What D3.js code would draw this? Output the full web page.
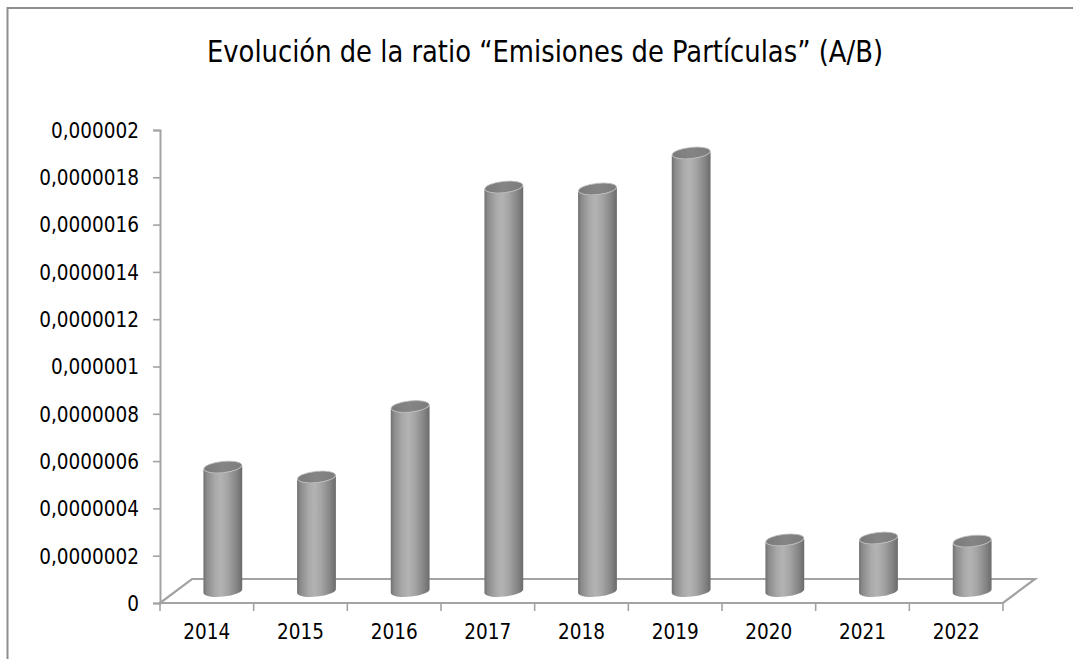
<!DOCTYPE html>
<html>
<head>
<meta charset="utf-8">
<script src="https://cdn.jsdelivr.net/npm/d3@7"></script>
<style>
html,body{margin:0;padding:0;background:#fff;}
svg{display:block;}
text{font-family:"DejaVu Sans Condensed","DejaVu Sans",sans-serif;font-stretch:condensed;fill:#000;}
</style>
</head>
<body>
<svg id="chart" width="1073" height="659"></svg>
<script>
const title = "Evolución de la ratio “Emisiones de Partículas” (A/B)";
const categories = ["2014","2015","2016","2017","2018","2019","2020","2021","2022"];
const values = [0.000000524,0.000000482,0.00000078,0.000001708,0.0000017,0.000001852,0.000000216,0.000000224,0.000000211];
const yTickValues = [0,0.0000002,0.0000004,0.0000006,0.0000008,0.000001,0.0000012,0.0000014,0.0000016,0.0000018,0.000002];
const yTickLabels = ["0","0,0000002","0,0000004","0,0000006","0,0000008","0,000001","0,0000012","0,0000014","0,0000016","0,0000018","0,000002"];

(function(){
const pLeft = 160, pRight = 1003, pTop = 130, pBottom = 603;
const depthX = 32, depthY = -24;           // floor depth offset
const midX = depthX/2, midY = depthY/2;    // bars sit at mid-depth

const svg = d3.select("#chart");

// outer frame
svg.append("rect").attr("x",7.5).attr("y",8).attr("width",1200).attr("height",800)
  .attr("fill","#fff").attr("stroke","#8e8e8e").attr("stroke-width",2);

// title
svg.append("text").attr("x",545).attr("y",62).attr("text-anchor","middle")
  .attr("font-size",31).attr("textLength",676).attr("lengthAdjust","spacingAndGlyphs")
  .text(title);

const x = d3.scaleBand().domain(categories).range([pLeft,pRight]).padding(0);
const y = d3.scaleLinear().domain([0,0.000002]).range([pBottom,pTop]);

const axisColor = "#a3a3a3";

// floor parallelogram
const floorPts = [[pLeft,pBottom],[pRight,pBottom],[pRight+depthX,pBottom+depthY],[pLeft+depthX,pBottom+depthY]];
svg.append("path").attr("d", d3.line()(floorPts)+"Z")
  .attr("fill","none").attr("stroke",axisColor).attr("stroke-width",2.2).attr("stroke-linejoin","miter");

// y axis
const yAxis = d3.axisLeft(y).tickValues(yTickValues).tickSize(7).tickPadding(14)
  .tickFormat((d,i)=>yTickLabels[i]);
const gy = svg.append("g").attr("transform",`translate(${pLeft},0)`).call(yAxis);
gy.select(".domain").attr("stroke",axisColor).attr("stroke-width",2);
gy.selectAll(".tick line").attr("stroke",axisColor).attr("stroke-width",1.6);
gy.selectAll(".tick text").attr("font-size",20.5).attr("dy","0.36em")
  .style("font-family",'"DejaVu Sans Condensed","DejaVu Sans",sans-serif');

// x axis ticks (category boundaries) and labels
const bounds = categories.map(c=>x(c)).concat([pRight]);
svg.selectAll(".xtick").data(bounds).enter().append("line")
  .attr("x1",d=>d).attr("x2",d=>d).attr("y1",pBottom).attr("y2",pBottom+8)
  .attr("stroke",axisColor).attr("stroke-width",1.6);
svg.selectAll(".xlab").data(categories).enter().append("text")
  .attr("x",d=>x(d)+x.bandwidth()/2).attr("y",639).attr("text-anchor","middle")
  .attr("font-size",20.5).text(d=>d);

// bars (cylinders)
const defs = svg.append("defs");
const grad = defs.append("linearGradient").attr("id","cyl").attr("x1","0").attr("x2","1").attr("y1","0").attr("y2","0");
[["0%","#6f6f6f"],["8%","#8a8a8a"],["30%","#a9a9a9"],["45%","#b3b3b3"],["62%","#a5a5a5"],["85%","#858585"],["100%","#6b6b6b"]]
  .forEach(s=>grad.append("stop").attr("offset",s[0]).attr("stop-color",s[1]));
const capGrad = defs.append("linearGradient").attr("id","cap").attr("x1","0").attr("x2","1").attr("y1","0").attr("y2","0");
[["0%","#7a7a7a"],["50%","#858585"],["100%","#7c7c7c"]]
  .forEach(s=>capGrad.append("stop").attr("offset",s[0]).attr("stop-color",s[1]));

const rx = 19.5, ry = 5.6, rot = -6;
const phi = rot*Math.PI/180;
const ex = rx*Math.cos(phi), ey = rx*Math.sin(phi);

const bars = svg.selectAll(".bar").data(categories.map((c,i)=>({c,v:values[i]}))).enter().append("g");
bars.each(function(d){
  const g = d3.select(this);
  const cx = x(d.c)+x.bandwidth()/2+midX;
  const yB = y(0)+midY;
  const yT = y(d.v)+midY;
  const p = `M${cx-ex},${yT-ey} L${cx-ex},${yB-ey} A${rx},${ry} ${rot} 0 0 ${cx+ex},${yB+ey} L${cx+ex},${yT+ey} A${rx},${ry} ${rot} 0 1 ${cx-ex},${yT-ey} Z`;
  g.append("path").attr("d",p).attr("fill","url(#cyl)");
  g.append("ellipse").attr("cx",cx).attr("cy",yT).attr("rx",rx-0.3).attr("ry",ry)
    .attr("transform",`rotate(${rot},${cx},${yT})`)
    .attr("fill","url(#cap)").attr("stroke","#bdbdbd").attr("stroke-width",0.8);
});
})();
</script>
</body>
</html>
